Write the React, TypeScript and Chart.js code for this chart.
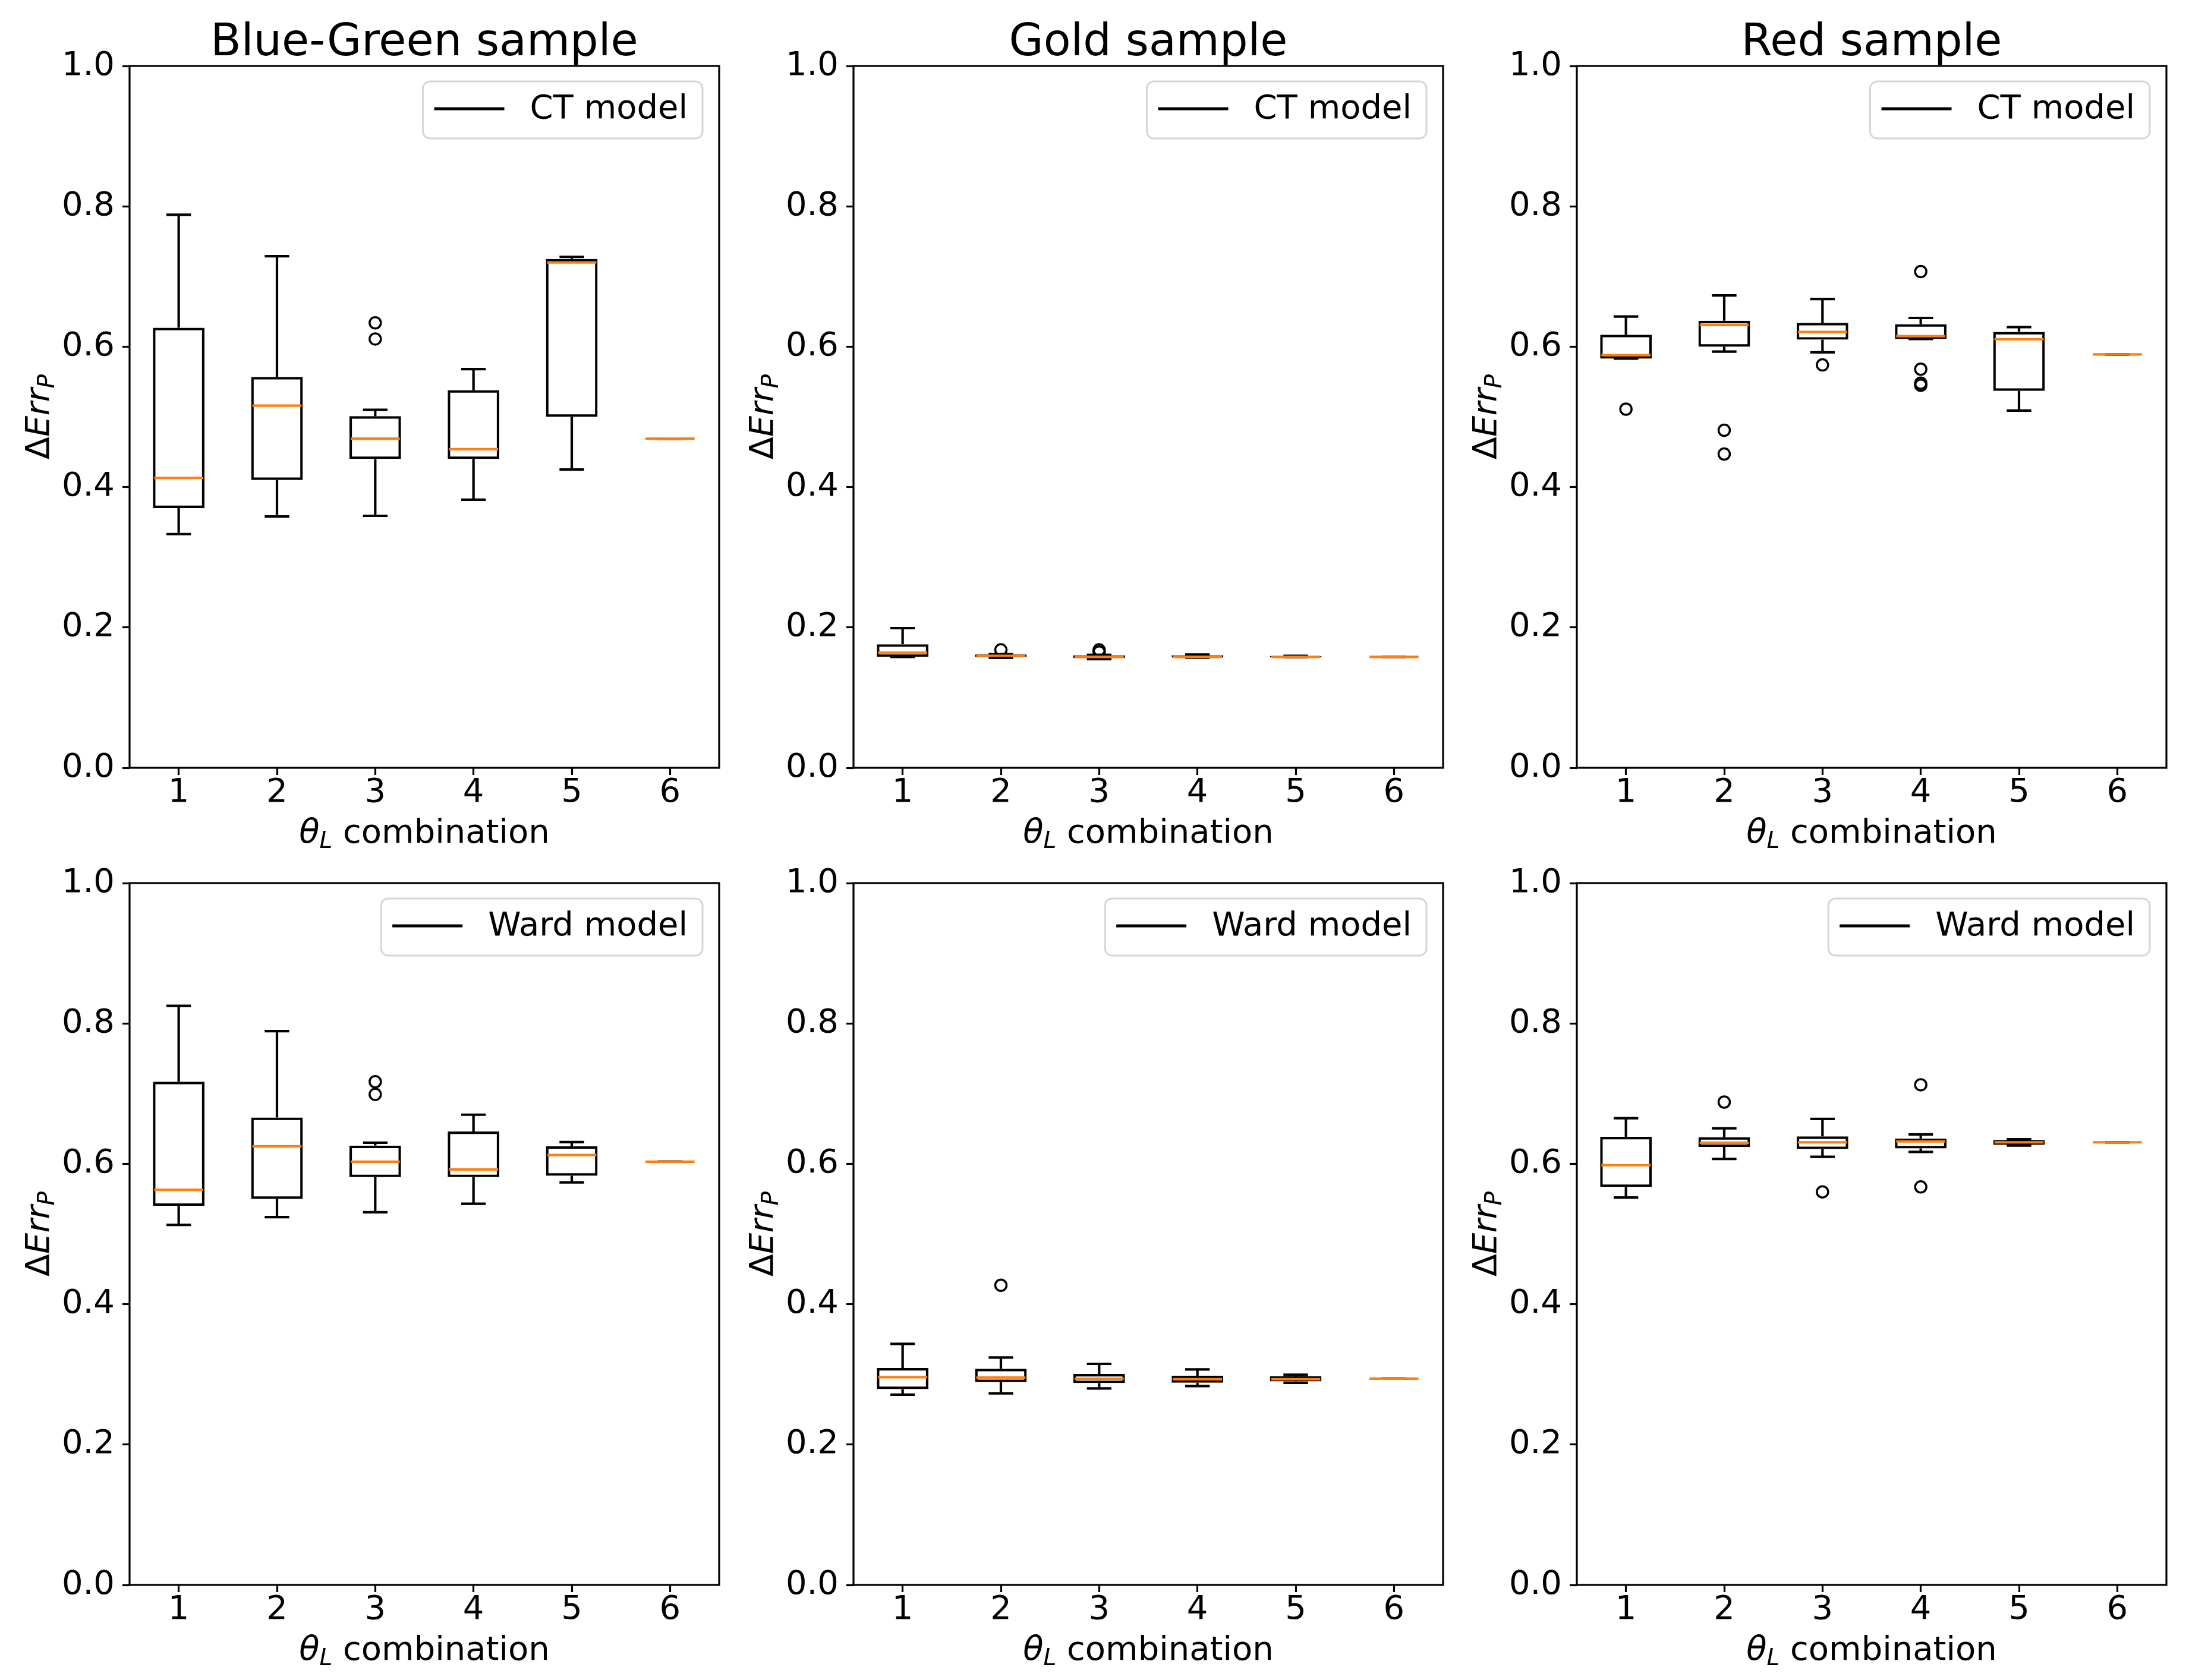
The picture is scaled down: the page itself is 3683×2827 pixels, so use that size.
import React, { useEffect, useRef } from 'react';
import { Chart, registerables } from 'chart.js';

Chart.register(...registerables);

// ---------- labels ----------
const combos = ['1', '2', '3', '4', '5', '6'];
const sampleTitles = ['Blue-Green sample', 'Gold sample', 'Red sample'];
const modelNames = ['CT model', 'Ward model'];

// ---------- Blue-Green, CT model ----------
const bgCtLow = [0.333, 0.358, 0.359, 0.382, 0.425, 0.469];
const bgCtQ1 = [0.370, 0.410, 0.440, 0.440, 0.500, 0.469];
const bgCtMed = [0.413, 0.516, 0.469, 0.454, 0.720, 0.469];
const bgCtQ3 = [0.627, 0.557, 0.501, 0.538, 0.725, 0.469];
const bgCtHigh = [0.788, 0.729, 0.510, 0.568, 0.728, 0.469];
const bgCtOut = [[], [], [0.634, 0.611], [], [], []];

// ---------- Gold, CT model ----------
const goldCtLow = [0.158, 0.1568, 0.1548, 0.157, 0.1575, 0.158];
const goldCtQ1 = [0.158, 0.1576, 0.1562, 0.157, 0.1575, 0.158];
const goldCtMed = [0.164, 0.1596, 0.158, 0.158, 0.158, 0.158];
const goldCtQ3 = [0.176, 0.1616, 0.1604, 0.1605, 0.1592, 0.158];
const goldCtHigh = [0.199, 0.1619, 0.161, 0.1615, 0.1595, 0.158];
const goldCtOut = [[], [0.168], [0.168, 0.165], [], [], []];

// ---------- Red, CT model ----------
const redCtLow = [0.583, 0.593, 0.592, 0.611, 0.509, 0.589];
const redCtQ1 = [0.583, 0.600, 0.610, 0.611, 0.537, 0.589];
const redCtMed = [0.588, 0.631, 0.621, 0.615, 0.6105, 0.589];
const redCtQ3 = [0.617, 0.637, 0.634, 0.632, 0.621, 0.589];
const redCtHigh = [0.643, 0.673, 0.668, 0.641, 0.628, 0.589];
const redCtOut = [[0.511], [0.481, 0.447], [0.574], [0.707, 0.568, 0.548, 0.545], [], []];

// ---------- Blue-Green, Ward model ----------
const bgWardLow = [0.513, 0.524, 0.531, 0.543, 0.5736, 0.603];
const bgWardQ1 = [0.540, 0.550, 0.581, 0.581, 0.583, 0.603];
const bgWardMed = [0.563, 0.625, 0.603, 0.592, 0.6125, 0.603];
const bgWardQ3 = [0.717, 0.666, 0.626, 0.646, 0.625, 0.603];
const bgWardHigh = [0.825, 0.789, 0.630, 0.670, 0.631, 0.603];
const bgWardOut = [[], [], [0.717, 0.699], [], [], []];

// ---------- Gold, Ward model ----------
const goldWardLow = [0.271, 0.273, 0.280, 0.2834, 0.288, 0.294];
const goldWardQ1 = [0.279, 0.289, 0.2876, 0.288, 0.290, 0.294];
const goldWardMed = [0.296, 0.2955, 0.2938, 0.293, 0.293, 0.294];
const goldWardQ3 = [0.309, 0.308, 0.3006, 0.298, 0.2975, 0.294];
const goldWardHigh = [0.3435, 0.324, 0.315, 0.307, 0.2995, 0.294];
const goldWardOut = [[], [0.427], [], [], [], []];

// ---------- Red, Ward model ----------
const redWardLow = [0.552, 0.607, 0.610, 0.617, 0.626, 0.6306];
const redWardQ1 = [0.567, 0.624, 0.621, 0.622, 0.627, 0.6306];
const redWardMed = [0.598, 0.630, 0.6306, 0.632, 0.6306, 0.6306];
const redWardQ3 = [0.6385, 0.638, 0.639, 0.636, 0.634, 0.6306];
const redWardHigh = [0.665, 0.6506, 0.664, 0.642, 0.635, 0.6306];
const redWardOut = [[], [0.688], [0.560], [0.7126, 0.567], [], []];

type BoxSet = {
  low: number[];
  q1: number[];
  med: number[];
  q3: number[];
  high: number[];
  out: number[][];
};

const panelData: BoxSet[][] = [
  [
    { low: bgCtLow, q1: bgCtQ1, med: bgCtMed, q3: bgCtQ3, high: bgCtHigh, out: bgCtOut },
    { low: goldCtLow, q1: goldCtQ1, med: goldCtMed, q3: goldCtQ3, high: goldCtHigh, out: goldCtOut },
    { low: redCtLow, q1: redCtQ1, med: redCtMed, q3: redCtQ3, high: redCtHigh, out: redCtOut },
  ],
  [
    { low: bgWardLow, q1: bgWardQ1, med: bgWardMed, q3: bgWardQ3, high: bgWardHigh, out: bgWardOut },
    { low: goldWardLow, q1: goldWardQ1, med: goldWardMed, q3: goldWardQ3, high: goldWardHigh, out: goldWardOut },
    { low: redWardLow, q1: redWardQ1, med: redWardMed, q3: redWardQ3, high: redWardHigh, out: redWardOut },
  ],
];

// ---------- layout / style ----------
const FONT = '"DejaVu Sans"';
const COL_LEFT = [218, 1436, 2653];
const ROW_TOP = [111, 1486];
const PLOT_W = 993;
const PLOT_H = 1181;
const AXIS_W = 218;
const PAD_TOP = 111;
const PAD_RIGHT = 12;
const XAXIS_H = 150;
const LABEL_SIZE = 56;
const TITLE_SIZE = 75;
const LW = 4.2;
const SPINE_W = 3.2;
const ORANGE = '#ff7f0e';

type Seg = { t: string; italic?: boolean; size: number; dy?: number };

function drawSegs(ctx: CanvasRenderingContext2D, segs: Seg[], cx: number, baseY: number) {
  const widths = segs.map((s) => {
    ctx.font = `${s.italic ? 'italic ' : ''}${s.size}px ${FONT}`;
    return ctx.measureText(s.t).width;
  });
  const total = widths.reduce((a, b) => a + b, 0);
  let x = cx - total / 2;
  ctx.textAlign = 'left';
  ctx.textBaseline = 'alphabetic';
  segs.forEach((s, i) => {
    ctx.font = `${s.italic ? 'italic ' : ''}${s.size}px ${FONT}`;
    ctx.fillText(s.t, x, baseY + (s.dy || 0));
    x += widths[i];
  });
}

function BoxPanel({ row, col }: { row: number; col: number }) {
  const ref = useRef<HTMLCanvasElement>(null);

  useEffect(() => {
    const canvas = ref.current;
    if (!canvas) return;
    const d = panelData[row][col];
    const boxData = combos.map((_, i) => (d.q3[i] > d.q1[i] ? [d.q1[i], d.q3[i]] : null));
    const outPts = d.out.flatMap((arr, i) => arr.map((v) => ({ x: combos[i], y: v })));

    const extras = {
      id: 'boxExtras' + row + col,
      afterDatasetsDraw(chart: any) {
        const { ctx, scales } = chart;
        const xs = scales.x;
        const ys = scales.y;
        const sp = xs.getPixelForValue(1) - xs.getPixelForValue(0);
        const seg = (x1: number, y1: number, x2: number, y2: number) => {
          ctx.beginPath();
          ctx.moveTo(x1, y1);
          ctx.lineTo(x2, y2);
          ctx.stroke();
        };
        ctx.save();
        ctx.lineCap = 'butt';
        ctx.strokeStyle = '#000';
        ctx.lineWidth = LW;
        combos.forEach((_, i) => {
          const cx = xs.getPixelForValue(i);
          const yHi = ys.getPixelForValue(d.high[i]);
          const yLo = ys.getPixelForValue(d.low[i]);
          const yQ1 = ys.getPixelForValue(d.q1[i]);
          const yQ3 = ys.getPixelForValue(d.q3[i]);
          if (yHi < yQ3) seg(cx, yQ3, cx, yHi);
          if (yLo > yQ1) seg(cx, yQ1, cx, yLo);
          seg(cx - sp * 0.125, yHi, cx + sp * 0.125, yHi);
          seg(cx - sp * 0.125, yLo, cx + sp * 0.125, yLo);
        });
        ctx.strokeStyle = ORANGE;
        combos.forEach((_, i) => {
          const cx = xs.getPixelForValue(i);
          const ym = ys.getPixelForValue(d.med[i]);
          seg(cx - sp * 0.25, ym, cx + sp * 0.25, ym);
        });
        ctx.restore();
      },
      afterDraw(chart: any) {
        const { ctx, chartArea } = chart;
        const { left, right, top, bottom } = chartArea;
        const cx = (left + right) / 2;
        ctx.save();
        // frame (all four spines)
        ctx.strokeStyle = '#000';
        ctx.lineWidth = SPINE_W;
        ctx.strokeRect(left, top, right - left, bottom - top);

        ctx.fillStyle = '#000';
        // title
        if (row === 0) {
          ctx.font = `${TITLE_SIZE}px ${FONT}`;
          ctx.textAlign = 'center';
          ctx.textBaseline = 'alphabetic';
          ctx.fillText(sampleTitles[col], cx, top - 18);
        }
        // x label: θ_L combination
        drawSegs(
          ctx,
          [
            { t: 'θ', italic: true, size: LABEL_SIZE },
            { t: 'L', italic: true, size: LABEL_SIZE * 0.7, dy: 9 },
            { t: ' combination', size: LABEL_SIZE },
          ],
          cx,
          bottom + 126
        );
        // y label: ΔErr_P
        ctx.save();
        ctx.translate(left - 136, (top + bottom) / 2);
        ctx.rotate(-Math.PI / 2);
        drawSegs(
          ctx,
          [
            { t: 'Δ', size: LABEL_SIZE },
            { t: 'Err', italic: true, size: LABEL_SIZE },
            { t: 'P', italic: true, size: LABEL_SIZE * 0.7, dy: 9 },
          ],
          0,
          0
        );
        ctx.restore();

        // legend
        const name = modelNames[row];
        ctx.font = `${LABEL_SIZE}px ${FONT}`;
        const tw = ctx.measureText(name).width;
        const bw = 19 + 118 + 43 + tw + 25;
        const bh = 96;
        const bx = right - 28 - bw;
        const by = top + 26;
        ctx.beginPath();
        (ctx as any).roundRect(bx, by, bw, bh, 12);
        ctx.fillStyle = 'rgba(255,255,255,0.8)';
        ctx.fill();
        ctx.strokeStyle = '#d6d6d6';
        ctx.lineWidth = 3;
        ctx.stroke();
        ctx.strokeStyle = '#000';
        ctx.lineWidth = 5;
        ctx.beginPath();
        ctx.moveTo(bx + 19, by + 46);
        ctx.lineTo(bx + 137, by + 46);
        ctx.stroke();
        ctx.fillStyle = '#000';
        ctx.textAlign = 'left';
        ctx.textBaseline = 'middle';
        ctx.fillText(name, bx + 180, by + 47);
        ctx.restore();
      },
    };

    const tickFont = { family: FONT, size: LABEL_SIZE, lineHeight: 1.1 };
    const gridOpts = {
      display: true,
      drawOnChartArea: false,
      drawTicks: true,
      tickLength: 12,
      tickWidth: SPINE_W,
      tickColor: '#000',
      color: '#000',
      offset: false,
    };

    const chart = new Chart(canvas, {
      type: 'bar',
      data: {
        labels: combos,
        datasets: [
          {
            type: 'bar',
            data: boxData as any,
            backgroundColor: 'rgba(0,0,0,0)',
            borderColor: '#000',
            borderWidth: LW,
            borderSkipped: false,
            barPercentage: 0.525,
            categoryPercentage: 1,
          },
          {
            type: 'line',
            data: outPts as any,
            showLine: false,
            pointStyle: 'circle',
            pointRadius: 9.5,
            pointBorderWidth: 3.5,
            pointBorderColor: '#000',
            pointBackgroundColor: 'rgba(0,0,0,0)',
            borderColor: '#000',
            backgroundColor: 'rgba(0,0,0,0)',
          },
        ],
      } as any,
      options: {
        animation: false,
        responsive: true,
        maintainAspectRatio: false,
        events: [],
        layout: { padding: { left: 0, right: PAD_RIGHT, top: PAD_TOP, bottom: 0 } },
        plugins: {
          legend: { display: false },
          tooltip: { enabled: false },
          title: { display: false },
        },
        scales: {
          x: {
            type: 'category',
            offset: true,
            grid: gridOpts,
            border: { display: false },
            ticks: {
              color: '#000',
              font: tickFont,
              padding: 0,
              autoSkip: false,
              maxRotation: 0,
              minRotation: 0,
            },
            afterFit: (s: any) => {
              s.height = XAXIS_H;
            },
          },
          y: {
            type: 'linear',
            min: 0,
            max: 1,
            grid: gridOpts,
            border: { display: false },
            ticks: {
              stepSize: 0.2,
              color: '#000',
              font: tickFont,
              padding: 13,
              callback: (v: any) => Number(v).toFixed(1),
            },
            afterFit: (s: any) => {
              s.width = AXIS_W;
            },
          },
        },
      } as any,
      plugins: [extras],
    });

    return () => chart.destroy();
  }, [row, col]);

  const w = AXIS_W + PLOT_W + PAD_RIGHT;
  const h = PAD_TOP + PLOT_H + XAXIS_H;
  return (
    <div
      style={{
        position: 'absolute',
        left: COL_LEFT[col] - AXIS_W,
        top: ROW_TOP[row] - PAD_TOP,
        width: w,
        height: h,
      }}
    >
      <canvas ref={ref} />
    </div>
  );
}

export default function App() {
  return (
    <div
      style={{
        position: 'absolute',
        left: 0,
        top: 0,
        width: 3683,
        height: 2827,
        background: '#fff',
        overflow: 'hidden',
      }}
    >
      {[0, 1].map((r) => [0, 1, 2].map((c) => <BoxPanel key={`${r}-${c}`} row={r} col={c} />))}
    </div>
  );
}
